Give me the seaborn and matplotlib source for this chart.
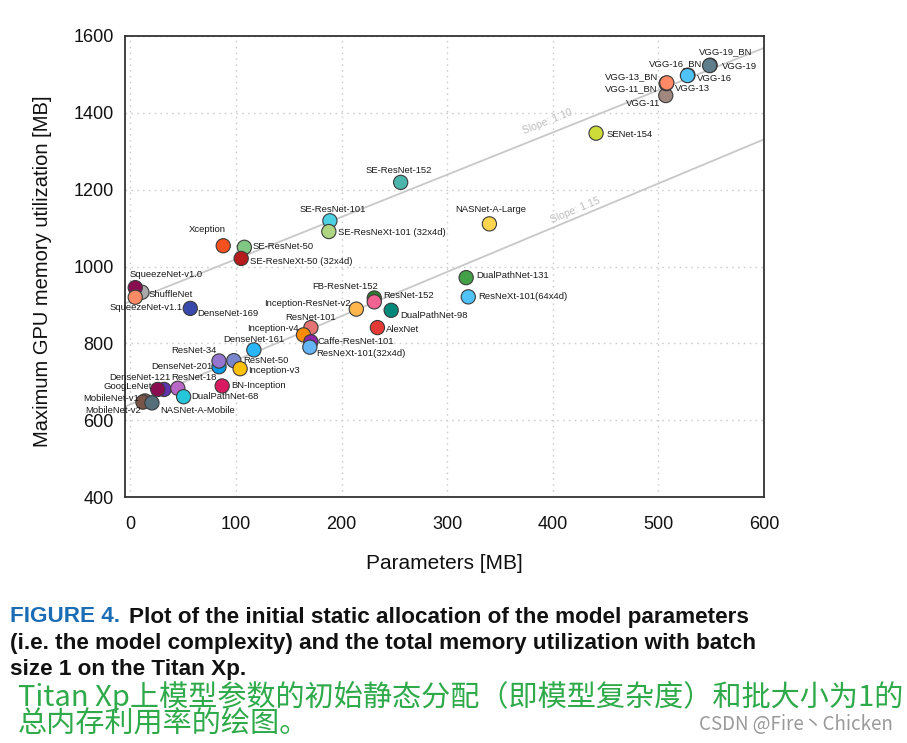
import numpy as np
import pandas as pd
import matplotlib
matplotlib.use("Agg")
import matplotlib.pyplot as plt
import seaborn as sns

# ---------------- data ----------------
models = [
    "ShuffleNet", "SqueezeNet-v1.0", "SqueezeNet-v1.1", "DenseNet-169",
    "Xception", "SE-ResNet-50", "SE-ResNeXt-50 (32x4d)",
    "SE-ResNet-101", "SE-ResNeXt-101 (32x4d)", "SE-ResNet-152",
    "NASNet-A-Large", "SENet-154",
    "VGG-11", "VGG-11_BN", "VGG-13", "VGG-13_BN",
    "VGG-16_BN", "VGG-16", "VGG-19_BN", "VGG-19",
    "FB-ResNet-152", "ResNet-152", "Inception-ResNet-v2", "DualPathNet-98",
    "AlexNet", "ResNet-101", "Inception-v4", "Caffe-ResNet-101",
    "ResNeXt-101(32x4d)", "DenseNet-161", "DenseNet-201", "ResNet-34",
    "ResNet-50", "Inception-v3", "DualPathNet-131", "ResNeXt-101(64x4d)",
    "DenseNet-121", "GoogLeNet", "ResNet-18", "DualPathNet-68",
    "BN-Inception", "MobileNet-v1", "MobileNet-v2", "NASNet-A-Mobile",
]
params_mb = [
    11, 4.7, 4.7, 56.8,
    88, 108, 105,
    189, 188, 256,
    340, 441,
    507, 507.5, 507.5, 508,
    528, 527.5, 549, 548.5,
    231, 231, 214, 247,
    234, 171, 164, 171,
    170, 117, 84, 84,
    98, 104, 318, 320,
    32, 26, 45, 50.5,
    87, 14, 12, 20.5,
]
memory_mb = [
    933, 945, 920, 891,
    1054, 1050, 1021,
    1119, 1091, 1219,
    1111, 1347,
    1445, 1476, 1477, 1478,
    1498, 1497, 1524, 1523,
    918, 908, 889, 886,
    841, 841, 822, 804,
    790, 783, 739, 754,
    755, 734, 971, 921,
    680, 680, 683, 661,
    689, 650, 647, 645,
]
slope_values = [1.10, 1.15]
slope_intercepts = [909, 641]
slope_labels = ["Slope: 1.10", "Slope: 1.15"]

x_ticks = [0, 100, 200, 300, 400, 500, 600]
y_ticks = [400, 600, 800, 1000, 1200, 1400, 1600]

# ---------------- styles ----------------
point_colors = [
    "#a9a9a9", "#880e4f", "#ff8a65", "#3949ab",
    "#f4511e", "#81c784", "#b71c1c",
    "#4dd0e1", "#aed581", "#4db6ac",
    "#ffd54f", "#cddc39",
    "#a1887f", "#8d6e63", "#ff7043", "#ff8a65",
    "#29b6f6", "#4fc3f7", "#546e7a", "#607d8b",
    "#2e7d32", "#f06292", "#ffb74d", "#00897b",
    "#e53935", "#e57373", "#fb8c00", "#8e24aa",
    "#64b5f6", "#29b6f6", "#039be5", "#9575cd",
    "#7986cb", "#ffc107", "#43a047", "#4fc3f7",
    "#5e35b1", "#880e4f", "#ba68c8", "#26c6da",
    "#d81b60", "#8d6e63", "#795548", "#546e7a",
]

# label offsets in pixels (dx, dy) and horizontal alignment
label_pos = {
    "SqueezeNet-v1.0": (-6, 13, "left"),
    "ShuffleNet": (7, -2, "left"),
    "SqueezeNet-v1.1": (11, -10, "center"),
    "DenseNet-169": (7, -5, "left"),
    "Xception": (-16, 16, "center"),
    "SE-ResNet-50": (8, 1, "left"),
    "SE-ResNeXt-50 (32x4d)": (9, -3, "left"),
    "SE-ResNet-101": (3, 11, "center"),
    "SE-ResNeXt-101 (32x4d)": (9, -1, "left"),
    "SE-ResNet-152": (-2, 12, "center"),
    "NASNet-A-Large": (1, 14, "center"),
    "SENet-154": (10, -1, "left"),
    "VGG-19_BN": (16, 13, "center"),
    "VGG-19": (12, -1, "left"),
    "VGG-16_BN": (-12, 11, "center"),
    "VGG-16": (10, -3, "left"),
    "VGG-13_BN": (-9, 6, "right"),
    "VGG-11_BN": (-9, -5, "right"),
    "VGG-13": (9, -5, "left"),
    "VGG-11": (-6, -8, "right"),
    "FB-ResNet-152": (-29, 12, "center"),
    "ResNet-152": (9, 6, "left"),
    "Inception-ResNet-v2": (-6, 6, "right"),
    "DualPathNet-98": (9, -5, "left"),
    "AlexNet": (9, -2, "left"),
    "ResNet-101": (0, 10, "center"),
    "Inception-v4": (-5, 6, "right"),
    "Caffe-ResNet-101": (7, 0, "left"),
    "ResNeXt-101(32x4d)": (6, -6, "left"),
    "DenseNet-161": (0, 10, "center"),
    "ResNet-34": (-2, 11, "right"),
    "ResNet-50": (9, 0, "left"),
    "DenseNet-201": (-7, 0, "right"),
    "Inception-v3": (8, -2, "left"),
    "DualPathNet-131": (10, 2, "left"),
    "ResNeXt-101(64x4d)": (10, 0, "left"),
    "DenseNet-121": (6, 12, "right"),
    "GoogLeNet": (-6, 3, "right"),
    "ResNet-18": (-7, 11, "left"),
    "DualPathNet-68": (8, 0, "left"),
    "BN-Inception": (9, 0, "left"),
    "MobileNet-v1": (-6, 2, "right"),
    "MobileNet-v2": (-2, -8, "right"),
    "NASNet-A-Mobile": (8, -8, "left"),
}
slope_label_at = [(395, 1378, 21.7), (421, 1147, 22.6)]

df = pd.DataFrame({"model": models, "params": params_mb, "memory": memory_mb})
palette = dict(zip(models, point_colors))

sns.set_theme(style="white")
plt.rcParams["font.family"] = ["Liberation Sans", "DejaVu Sans"]

W, H, DPI = 907, 743, 100
fig = plt.figure(figsize=(W / DPI, H / DPI), dpi=DPI)
ax = fig.add_axes([125 / W, 1 - 497 / H, (764 - 125) / W, (497 - 36) / H])

# grid
for xv in x_ticks:
    ax.axvline(xv, color="#cfcfcf", lw=1.0, ls=(0, (1.2, 3)), zorder=0)
for yv in y_ticks:
    ax.axhline(yv, color="#cfcfcf", lw=1.0, ls=(0, (1.2, 3)), zorder=0)

# slope reference lines
for b, m in zip(slope_intercepts, slope_values):
    ax.axline((0, b), slope=m, color="#c8c8c8", lw=1.3, zorder=1)

sns.scatterplot(data=df, x="params", y="memory", hue="model", palette=palette,
                s=105, edgecolor="#3a3a3a", linewidth=0.8, legend=False,
                ax=ax, zorder=3, alpha=1)

for name, xv, yv in zip(models, params_mb, memory_mb):
    dx, dy, ha = label_pos[name]
    ax.annotate(name, (xv, yv), xytext=(dx, dy), textcoords="offset pixels",
                ha=ha, va="center", fontsize=6.8, color="#1a1a1a", zorder=4)

ax.set_xlim(-5, 600)
ax.set_ylim(400, 1600)

for lab, (tx, ty, rot) in zip(slope_labels, slope_label_at):
    ax.text(tx, ty, lab, rotation=rot, color="#bdbdbd", fontsize=7.5,
            ha="center", va="center", rotation_mode="anchor")

ax.set_xticks(x_ticks)
ax.set_yticks(y_ticks)
ax.tick_params(axis="both", direction="out", length=5, width=1.3,
               color="#333333", labelsize=13, labelcolor="#111111")
ax.tick_params(axis="x", pad=9)
ax.tick_params(axis="y", pad=3)
for sp in ax.spines.values():
    sp.set_visible(True)
    sp.set_color("#333333")
    sp.set_linewidth(1.3)
ax.set_xlabel("Parameters [MB]", fontsize=15, color="#111111", labelpad=15)
ax.set_ylabel("Maximum GPU memory utilization [MB]", fontsize=14.5,
              color="#111111")
ax.yaxis.set_label_coords(-0.115, 0.49)

# ---------------- caption ----------------
cap_family = "Liberation Sans"
cap_size = 16.2

renderer = fig.canvas.get_renderer()
t0 = fig.text(10 / W, 1 - 617 / H, "FIGURE 4.", color="#1a6db5", fontsize=cap_size,
              fontweight="bold", family=cap_family, va="center", ha="left")
bb = t0.get_window_extent(renderer)
fig.text((bb.x1 + 9) / W, 1 - 617 / H,
         "Plot of the initial static allocation of the model parameters",
         color="#111111", fontsize=cap_size, fontweight="bold",
         family=cap_family, va="center", ha="left")
fig.text(10 / W, 1 - 644 / H,
         "(i.e. the model complexity) and the total memory utilization with batch",
         color="#111111", fontsize=cap_size, fontweight="bold",
         family=cap_family, va="center", ha="left")
fig.text(10 / W, 1 - 670 / H, "size 1 on the Titan Xp.",
         color="#111111", fontsize=cap_size, fontweight="bold",
         family=cap_family, va="center", ha="left")

cjk = ["Noto Sans CJK SC", "DejaVu Sans"]
fig.text(18 / W, 1 - 697 / H,
         "Titan Xp上模型参数的初始静态分配（即模型复杂度）和批大小为1的",
         color="#2eaa4a", fontsize=21, fontweight="light", family=cjk,
         va="center", ha="left")
fig.text(18 / W, 1 - 725 / H, "总内存利用率的绘图。",
         color="#2eaa4a", fontsize=21, fontweight="light", family=cjk,
         va="center", ha="left")
fig.text(893 / W, 1 - 725 / H, "CSDN @Fire丶Chicken",
         color="#9a9a9a", fontsize=13.5, family=cjk, va="center", ha="right")

fig.savefig("out.png", dpi=DPI)
